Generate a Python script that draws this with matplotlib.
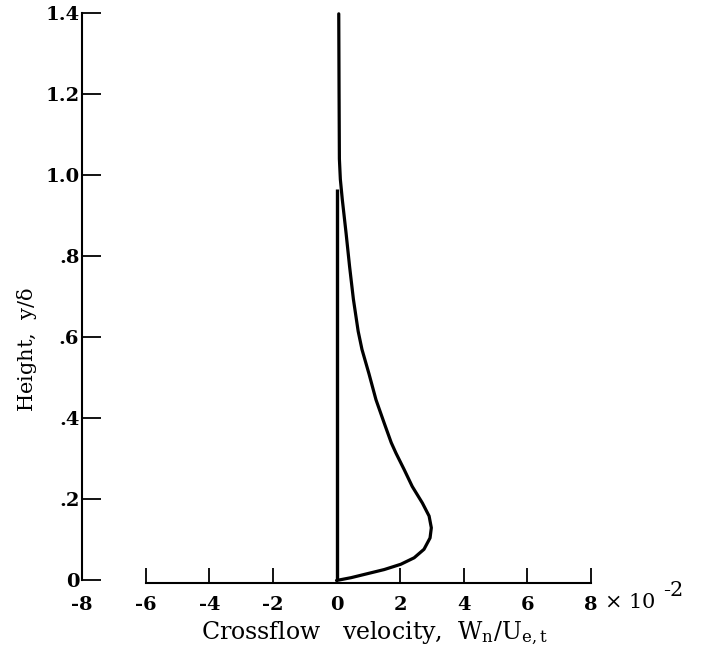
import numpy as np
import matplotlib
matplotlib.use("Agg")
import matplotlib.pyplot as plt

plt.rcParams.update({"font.family": "DejaVu Serif", "mathtext.fontset": "dejavuserif"})

# ---------------------------------------------------------------------------
# Data (x in units of 1e-2)
# ---------------------------------------------------------------------------
crossflow = [0.0, 0.46, 0.98, 1.5, 2.02, 2.44, 2.75, 2.94, 2.98, 2.91,
             2.70, 2.38, 2.13, 1.87, 1.72, 1.5, 1.24, 1.02, 0.80, 0.68,
             0.53, 0.41, 0.30, 0.18, 0.12, 0.09, 0.08, 0.07]
height = [0.0, 0.007, 0.017, 0.027, 0.040, 0.056, 0.077, 0.105, 0.130, 0.159,
          0.191, 0.232, 0.273, 0.314, 0.340, 0.388, 0.446, 0.51, 0.570, 0.615,
          0.694, 0.775, 0.857, 0.941, 0.99, 1.04, 1.2, 1.398]

zero_line_y = [0.0, 0.965]

xticks = [-8, -6, -4, -2, 0, 2, 4, 6, 8]
xtick_labels = ["-8", "-6", "-4", "-2", "0", "2", "4", "6", "8"]
yticks = [0, 0.2, 0.4, 0.6, 0.8, 1.0, 1.2, 1.4]
ytick_labels = ["0", ".2", ".4", ".6", ".8", "1.0", "1.2", "1.4"]

# ---------------------------------------------------------------------------
# Figure
# ---------------------------------------------------------------------------
fig = plt.figure(figsize=(7.09, 6.61), dpi=100)
ax = fig.add_axes([0.1157, 0.1218, 0.7179, 0.8585])

ax.plot([0.03, 0.03], zero_line_y, color="k", lw=2.4, solid_capstyle="butt", clip_on=False)
ax.plot(crossflow, height, color="k", lw=2.3, clip_on=False,
        solid_joinstyle="round", solid_capstyle="round")

ax.set_xlim(-8, 8)
ax.set_ylim(0, 1.4)

for side in ("top", "right"):
    ax.spines[side].set_visible(False)
ax.spines["left"].set_linewidth(1.5)
ax.spines["bottom"].set_linewidth(1.5)
ax.spines["bottom"].set_bounds(-6, 8)
ax.spines["bottom"].set_position(("outward", 2))

ax.set_xticks(xticks)
ax.set_xticklabels(xtick_labels, fontweight="bold", fontsize=14)
ax.set_yticks(yticks)
ax.set_yticklabels(ytick_labels, fontweight="bold", fontsize=14)
ax.tick_params(axis="x", direction="in", length=11, width=1.3, pad=9)
ax.tick_params(axis="y", direction="in", length=14, width=1.3, pad=2)
ax.xaxis.get_major_ticks()[0].tick1line.set_visible(False)

# "x 10^-2" multiplier after the last tick label
ax.annotate(r"$\times$ 10", xy=(8, 0), xycoords=("data", "axes fraction"),
            xytext=(9, -16), textcoords="offset points", fontsize=15,
            ha="left", va="center")
ax.annotate("-2", xy=(8, 0), xycoords=("data", "axes fraction"),
            xytext=(52, -7), textcoords="offset points", fontsize=15,
            ha="left", va="center")

ax.set_xlabel(r"Crossflow   velocity,  $\mathregular{W_n/U_{e,t}}$", fontsize=17)
ax.xaxis.set_label_coords(0.575, -0.068)
ax.set_ylabel(r"Height,  y/$\mathregular{\delta}$", fontsize=15)
ax.yaxis.set_label_coords(-0.085, 0.406)

fig.savefig("out.png", dpi=100)
